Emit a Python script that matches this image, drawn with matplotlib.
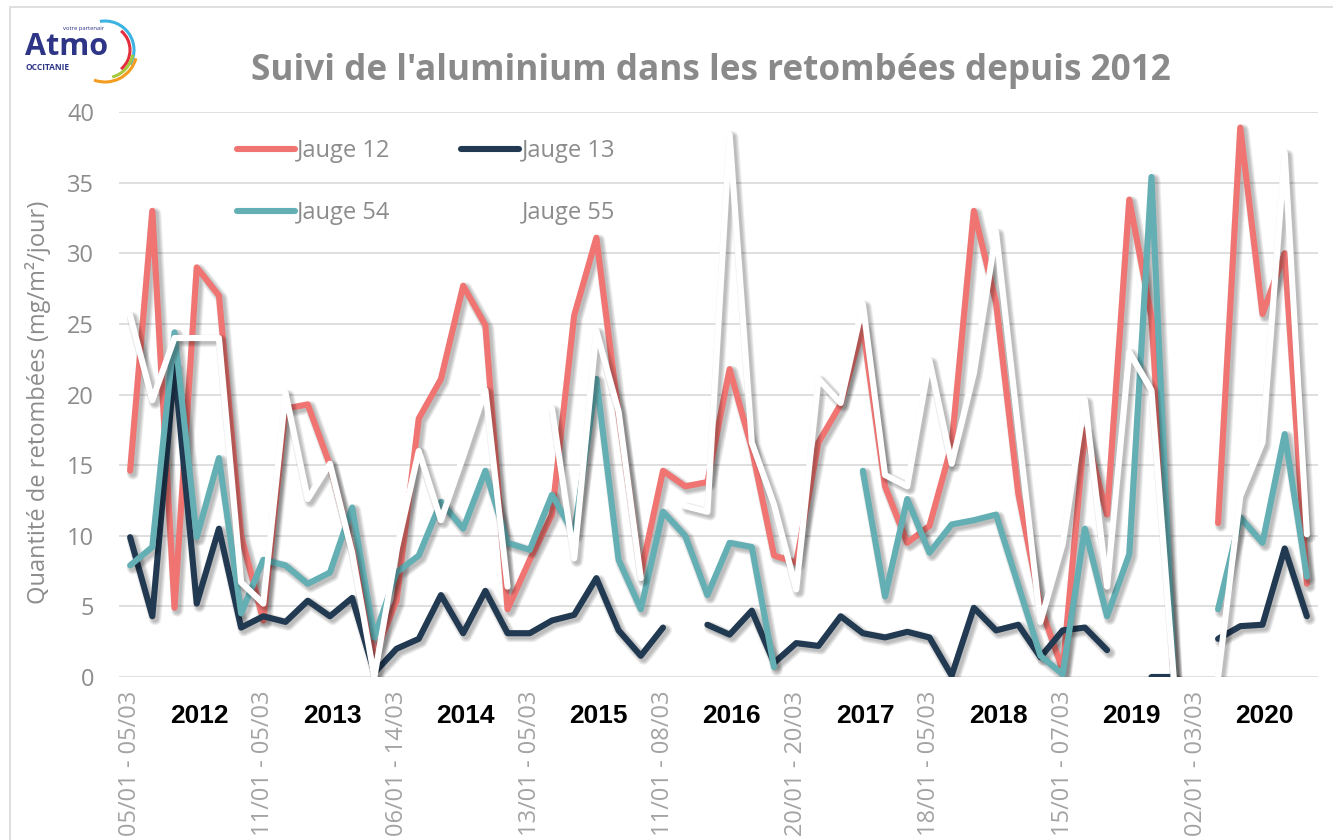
import numpy as np
import matplotlib
matplotlib.use("Agg")
import matplotlib.pyplot as plt
import matplotlib.patheffects as pe
from matplotlib.patches import Arc, Rectangle

plt.rcParams['font.family'] = ['Open Sans', 'DejaVu Sans']

nan = np.nan

# values, mg/m2/jour, one per sampling period
jauge_12 = [14.6, 33.0, 4.9, 29.0, 27.0, 10.0, 4.0, 19.0, 19.3, 15.0, 9.0, 1.5,
            5.4, 18.3, 21.1, 27.7, 24.9, 4.8, 8.3, 11.5, 25.6, 31.1, 18.6, 7.3,
            14.6, 13.5, 13.8, 21.8, 16.2, 8.6, 8.1, 16.6, 19.3, 24.8, 13.5, 9.5,
            10.7, 16.4, 33.0, 26.5, 13.0, 5.0, 0.5, 17.5, 11.5, 33.8, 25.5, 0.0,
            nan, 10.9, 38.9, 25.7, 30.0, 6.6]
jauge_13 = [9.9, 4.3, 22.0, 5.2, 10.5, 3.5, 4.3, 3.9, 5.4, 4.3, 5.6, 0.3,
            2.0, 2.7, 5.8, 3.1, 6.1, 3.1, 3.1, 4.0, 4.4, 7.0, 3.3, 1.5,
            3.5, nan, 3.7, 3.0, 4.7, 1.0, 2.4, 2.2, 4.3, 3.1, 2.8, 3.2,
            2.8, 0.1, 4.9, 3.3, 3.7, 1.4, 3.3, 3.5, 1.9, nan, 0.0, 0.0,
            nan, 2.7, 3.6, 3.7, 9.1, 4.3]
jauge_54 = [7.9, 9.2, 24.4, 9.9, 15.5, 4.5, 8.3, 7.9, 6.6, 7.4, 12.0, 2.8,
            7.4, 8.6, 12.4, 10.5, 14.6, 9.5, 9.0, 12.9, 10.1, 21.1, 8.3, 4.8,
            11.7, 10.0, 5.8, 9.5, 9.2, 0.7, nan, nan, nan, 14.6, 5.7, 12.6,
            8.8, 10.8, 11.1, 11.5, 6.5, 1.5, 0.2, 10.5, 4.3, 8.7, 35.4, 0.0,
            nan, 4.8, 11.3, 9.5, 17.2, 7.1]
jauge_55 = [25.6, 19.6, 24.0, 24.0, 24.0, 6.7, 5.2, 20.1, 12.6, 15.1, 8.8, 0.0,
            9.0, 16.0, 11.1, 15.6, 20.3, 6.4, nan, 19.0, 8.4, 24.5, 18.8, 7.0,
            nan, 12.1, 11.7, 38.4, 16.6, 12.2, 6.2, 21.1, 19.4, 26.4, 14.3, 13.5,
            22.4, 15.1, 21.5, 31.5, 17.5, 3.9, 9.4, 19.6, 6.4, 23.0, 20.3, 0.0,
            nan, 0.0, 12.8, 16.6, 37.1, 10.1]

tick_labels = ["05/01 - 05/03", "11/01 - 05/03", "06/01 - 14/03", "13/01 - 05/03",
               "11/01 - 08/03", "20/01 - 20/03", "18/01 - 05/03", "15/01 - 07/03",
               "02/01 - 03/03"]
years = ["2012", "2013", "2014", "2015", "2016", "2017", "2018", "2019", "2020"]

series = [("Jauge 12", jauge_12, "#ef7472"),
          ("Jauge 13", jauge_13, "#213a52"),
          ("Jauge 54", jauge_54, "#63afb4"),
          ("Jauge 55", jauge_55, "#ffffff")]

W, H = 1333, 840
LW = 4.4
fig = plt.figure(figsize=(W / 100, H / 100), dpi=100)

# overlay in pixel units for the frame and the logo
bg = fig.add_axes([0, 0, 1, 1], zorder=-1)
bg.set_xlim(0, W)
bg.set_ylim(0, H)
bg.axis("off")
bg.add_patch(Rectangle((10, -20), W + 40, H - 7 + 20, fill=False,
                       edgecolor="#d9d9d9", lw=1.2))

# logo
bg.text(25, H - 55, "Atmo", fontsize=22, fontweight="bold", color="#2e3586")
bg.text(26, H - 70, "OCCITANIE", fontsize=6.0, fontweight="bold", color="#2e3586")
bg.text(63, H - 30, "votre partenair", fontsize=4.2, color="#2e3586")
for r, t1, t2, c in [(29, -30, 100, "#3db3e3"), (25, -50, 50, "#e42d3c"),
                     (28, -75, -10, "#a7c83b"), (32, -110, -15, "#f39c1f")]:
    bg.add_patch(Arc((105, H - 50), 2 * r, 2 * r, theta1=t1, theta2=t2,
                     color=c, lw=2.2))

fig.text(711 / W, 1 - 80 / H, "Suivi de l'aluminium dans les retombées depuis 2012",
         ha="center", va="baseline", fontsize=25.3, fontweight="bold", color="#8a8a8a")

ax = fig.add_axes([119 / W, 1 - 677 / H, (1318 - 119) / W, (677 - 112) / H])
x = np.arange(len(jauge_12))

# soft drop shadow under every line
shadow = [pe.SimpleLineShadow(offset=(2, -2), shadow_color="k", alpha=0.07, linewidth=LW + w)
          for w in (4.5, 3.0, 1.5, 0.0)]

lines = {}
for name, vals, col in series:
    ln, = ax.plot(x, vals, color=col, lw=LW, solid_capstyle="round",
                  solid_joinstyle="round", label=name, zorder=3,
                  path_effects=shadow + [pe.Normal()])
    lines[name] = ln

ax.set_xlim(-0.5, len(x) - 0.5)
ax.set_ylim(0, 40)
ax.set_yticks(range(0, 41, 5))
ax.grid(axis="y", color="#d9d9d9", lw=1.2, zorder=0)
ax.set_axisbelow(True)
for s in ax.spines.values():
    s.set_visible(False)
ax.tick_params(axis="y", length=0, pad=18, labelsize=17, labelcolor="#8c8c8c")
ax.set_xticks(range(0, len(x), 6))
ax.set_xticklabels(tick_labels, rotation=90, va="top", ha="center")
ax.tick_params(axis="x", length=0, pad=10, labelsize=17, labelcolor="#a3a3a3")

for k, yr in enumerate(years):
    ax.text(6 * k + 3.1, -0.069, yr, transform=ax.get_xaxis_transform(),
            ha="center", va="center", fontsize=19, fontweight="bold", color="black",
            family=["Liberation Sans Narrow", "Liberation Sans", "DejaVu Sans"])

fig.text(38 / W, 1 - 402 / H, "Quantité de retombées (mg/m²/jour)", rotation=90,
         ha="center", va="center", fontsize=17, color="#8c8c8c")

order = ["Jauge 12", "Jauge 54", "Jauge 13", "Jauge 55"]
leg = ax.legend([lines[n] for n in order], order, ncol=2, frameon=False,
                loc="upper left", bbox_to_anchor=(237 / W, 1 - 139 / H),
                bbox_transform=fig.transFigure, borderpad=0, borderaxespad=0,
                fontsize=17, handlelength=2.45, handletextpad=0.1,
                columnspacing=3.0, labelspacing=1.6)
for t in leg.get_texts():
    t.set_color("#8c8c8c")
for h in leg.legend_handles:
    h.set_path_effects([])
    h.set_linewidth(LW)

fig.savefig("out.png", dpi=100)
